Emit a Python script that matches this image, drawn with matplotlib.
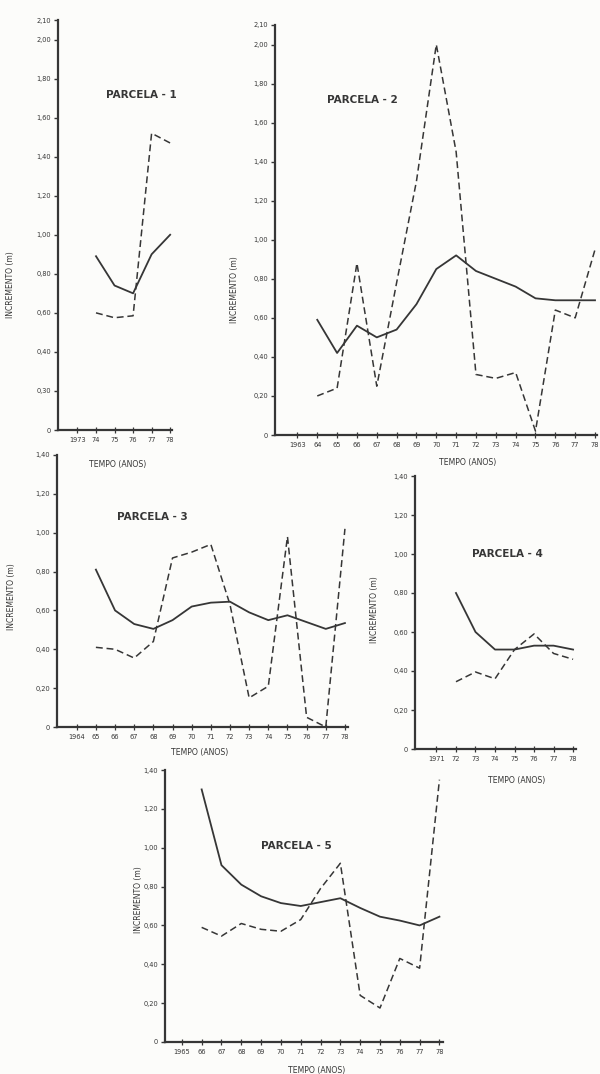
import matplotlib
matplotlib.use("Agg")
import matplotlib.pyplot as plt

# ---------------- data ----------------
p1_years = [1974, 1975, 1976, 1977, 1978]
p1_solid = [0.89, 0.74, 0.70, 0.90, 1.00]
p1_dash = [0.60, 0.575, 0.585, 1.52, 1.47]

p2_years = list(range(1964, 1979))
p2_solid = [0.59, 0.42, 0.56, 0.50, 0.54, 0.67, 0.85, 0.92, 0.84, 0.80, 0.76, 0.70, 0.69, 0.69, 0.69]
p2_dash = [0.20, 0.24, 0.88, 0.25, 0.78, 1.30, 2.00, 1.45, 0.31, 0.29, 0.32, 0.02, 0.64, 0.60, 0.95]

p3_years = list(range(1965, 1979))
p3_solid = [0.81, 0.60, 0.53, 0.505, 0.55, 0.62, 0.64, 0.645, 0.59, 0.55, 0.575, 0.54, 0.505, 0.535]
p3_dash = [0.41, 0.40, 0.355, 0.44, 0.87, 0.90, 0.94, 0.63, 0.15, 0.21, 0.98, 0.05, 0.0, 1.02]

p4_years = list(range(1972, 1979))
p4_solid = [0.80, 0.60, 0.51, 0.51, 0.53, 0.53, 0.51]
p4_dash = [0.345, 0.395, 0.36, 0.51, 0.59, 0.49, 0.46]

p5_years = list(range(1966, 1979))
p5_solid = [1.30, 0.91, 0.81, 0.75, 0.715, 0.70, 0.72, 0.74, 0.69, 0.645, 0.625, 0.60, 0.645]
p5_dash = [0.59, 0.545, 0.61, 0.58, 0.57, 0.63, 0.79, 0.92, 0.24, 0.175, 0.43, 0.38, 1.35]

p1_xticks = [1973, 1974, 1975, 1976, 1977, 1978]
p1_xlabels = ["1973", "74", "75", "76", "77", "78"]
p2_xticks = list(range(1963, 1979))
p2_xlabels = ["1963"] + [str(y)[2:] for y in range(1964, 1979)]
p3_xticks = list(range(1964, 1979))
p3_xlabels = ["1964"] + [str(y)[2:] for y in range(1965, 1979)]
p4_xticks = list(range(1971, 1979))
p4_xlabels = ["1971"] + [str(y)[2:] for y in range(1972, 1979)]
p5_xticks = list(range(1965, 1979))
p5_xlabels = ["1965"] + [str(y)[2:] for y in range(1966, 1979)]

tall_yticks = [0, 0.2, 0.4, 0.6, 0.8, 1.0, 1.2, 1.4, 1.6, 1.8, 2.0, 2.1]
p1_ylabels = ["0", "0,30", "0,40", "0,60", "0,80", "1,00", "1,20", "1,40", "1,60", "1,80", "2,00", "2,10"]
p2_ylabels = ["0", "0,20", "0,40", "0,60", "0,80", "1,00", "1,20", "1,40", "1,60", "1,80", "2,00", "2,10"]
short_yticks = [0, 0.2, 0.4, 0.6, 0.8, 1.0, 1.2, 1.4]
short_ylabels = ["0", "0,20", "0,40", "0,60", "0,80", "1,00", "1,20", "1,40"]

titles = ["PARCELA - 1", "PARCELA - 2", "PARCELA - 3", "PARCELA - 4", "PARCELA - 5"]
ylabel_text = "INCREMENTO (m)"
xlabel_text = "TEMPO (ANOS)"

# ---------------- layout ----------------
W, H = 600, 1074
INK = "#363636"
fig = plt.figure(figsize=(W / 100, H / 100), dpi=100)
fig.patch.set_facecolor("#fcfcfa")


def make_ax(l, r, y0, ytop):
    return fig.add_axes([l / W, 1 - y0 / H, (r - l) / W, (y0 - ytop) / H])


def ftext(x, y, s, **kw):
    fig.text(x / W, 1 - y / H, s, color=INK, ha="center", va="center", **kw)


panels = [
    dict(box=(58, 172, 430, 20), xlim=(1971.95, 1978.1), ylim=2.1,
         yrs=p1_years, s=p1_solid, d=p1_dash, xt=p1_xticks, xl=p1_xlabels,
         yt=tall_yticks, yl=p1_ylabels,
         title=(141, 95), ylab=(11, 285), xlab=(118, 464)),
    dict(box=(275, 597, 435, 25), xlim=(1961.87, 1978.1), ylim=2.1,
         yrs=p2_years, s=p2_solid, d=p2_dash, xt=p2_xticks, xl=p2_xlabels,
         yt=tall_yticks, yl=p2_ylabels,
         title=(362, 100), ylab=(234, 290), xlab=(468, 462)),
    dict(box=(57, 348, 727, 455), xlim=(1962.97, 1978.16), ylim=1.4,
         yrs=p3_years, s=p3_solid, d=p3_dash, xt=p3_xticks, xl=p3_xlabels,
         yt=short_yticks, yl=short_ylabels,
         title=(152, 517), ylab=(12, 597), xlab=(200, 752)),
    dict(box=(415, 576, 749, 476), xlim=(1969.9, 1978.15), ylim=1.4,
         yrs=p4_years, s=p4_solid, d=p4_dash, xt=p4_xticks, xl=p4_xlabels,
         yt=short_yticks, yl=short_ylabels,
         title=(507, 554), ylab=(374, 610), xlab=(517, 780)),
    dict(box=(165, 443, 1042, 770), xlim=(1964.15, 1978.18), ylim=1.4,
         yrs=p5_years, s=p5_solid, d=p5_dash, xt=p5_xticks, xl=p5_xlabels,
         yt=short_yticks, yl=short_ylabels,
         title=(296, 846), ylab=(139, 900), xlab=(317, 1070)),
]

for i, p in enumerate(panels):
    l, r, y0, yt = p["box"]
    ax = make_ax(l, r, y0, yt)
    ax.set_facecolor("none")
    ax.plot(p["yrs"], p["s"], color=INK, lw=1.3, solid_joinstyle="round")
    ax.plot(p["yrs"], p["d"], color=INK, lw=1.1, linestyle=(0, (4.5, 2.5)))
    ax.set_xlim(*p["xlim"])
    ax.set_ylim(0, p["ylim"])
    for side in ("top", "right"):
        ax.spines[side].set_visible(False)
    for side in ("left", "bottom"):
        ax.spines[side].set_linewidth(1.6)
        ax.spines[side].set_color(INK)
    ax.set_xticks(p["xt"])
    ax.set_xticklabels(p["xl"])
    ax.set_yticks(p["yt"])
    ax.set_yticklabels(p["yl"])
    ax.tick_params(axis="y", direction="out", length=3, width=1.0, colors=INK,
                   labelsize=4.8, pad=2)
    ax.tick_params(axis="x", direction="inout", length=4, width=0.9, colors=INK,
                   labelsize=4.8, pad=3)
    tx, ty = p["title"]
    ftext(tx, ty, titles[i], fontsize=7.5, fontweight="bold")
    lx, ly = p["ylab"]
    ftext(lx, ly, ylabel_text, fontsize=5.5, rotation=90)
    xx, xy = p["xlab"]
    ftext(xx, xy, xlabel_text, fontsize=5.6)

fig.savefig("out.png", dpi=100, facecolor=fig.get_facecolor())
